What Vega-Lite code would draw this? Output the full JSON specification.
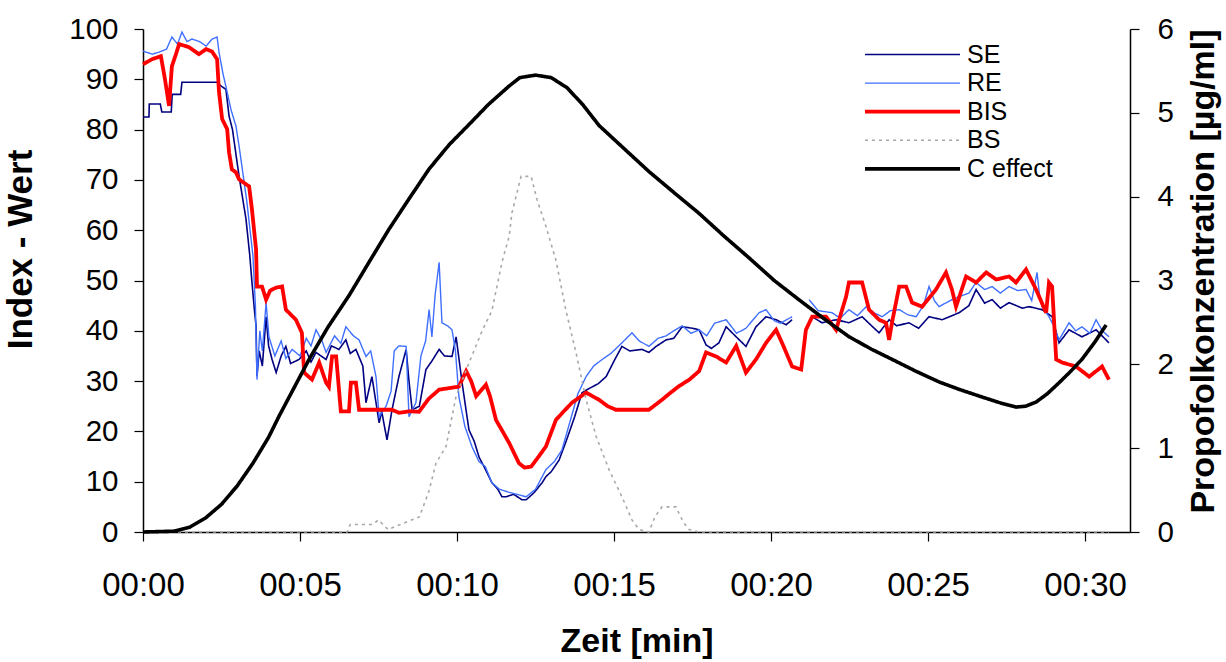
{
"$schema":"https://vega.github.io/schema/vega-lite/v6.json",
"width":987,"height":503,
"autosize":{"type":"none"},
"padding":{"left":143,"top":29,"right":96,"bottom":130},
"background":"white",
"config":{"view":{"stroke":null},"font":"Liberation Sans",
 "axis":{"grid":false,"labelFlush":false,"domainColor":"black","domainWidth":1.5,"tickColor":"black","tickWidth":1.2,"tickSize":9,"labelColor":"black","labelFont":"Liberation Sans","labelFontSize":29.5,"titleFont":"Liberation Sans","titleFontSize":35,"titleFontWeight":"bold","titleColor":"black"},
 "legend":{"labelFont":"Liberation Sans","labelFontSize":25,"labelColor":"black","symbolType":"M-4.75,0H4.75","symbolSize":400,"rowPadding":2.6,"labelOffset":42,"title":null,"orient":"none","legendX":757,"legendY":13,"padding":0}
},
"datasets":{"d":[
{"s":"SE","t":0,"v":82.5},{"s":"SE","t":0.19,"v":82.5},{"s":"SE","t":0.2,"v":85.1},{"s":"SE","t":0.55,"v":85.1},{"s":"SE","t":0.6,"v":83.5},{"s":"SE","t":0.9,"v":83.5},{"s":"SE","t":0.93,"v":87},{"s":"SE","t":1.2,"v":87},{"s":"SE","t":1.24,"v":89.4},{"s":"SE","t":2.36,"v":89.4},{"s":"SE","t":2.5,"v":88.6},{"s":"SE","t":2.64,"v":88},{"s":"SE","t":2.74,"v":82.7},{"s":"SE","t":2.85,"v":80},{"s":"SE","t":2.96,"v":75.1},{"s":"SE","t":3.06,"v":70.7},{"s":"SE","t":3.28,"v":62.2},{"s":"SE","t":3.4,"v":55},{"s":"SE","t":3.47,"v":49.6},{"s":"SE","t":3.55,"v":44},{"s":"SE","t":3.6,"v":41},{"s":"SE","t":3.63,"v":31},{"s":"SE","t":3.7,"v":36},{"s":"SE","t":3.8,"v":33},{"s":"SE","t":3.92,"v":42.8},{"s":"SE","t":4.0,"v":37},{"s":"SE","t":4.11,"v":34.3},{"s":"SE","t":4.24,"v":31.7},{"s":"SE","t":4.4,"v":35},{"s":"SE","t":4.55,"v":36.9},{"s":"SE","t":4.7,"v":33.5},{"s":"SE","t":4.97,"v":34.3},{"s":"SE","t":5.2,"v":36},{"s":"SE","t":5.35,"v":33.8},{"s":"SE","t":5.51,"v":35.7},{"s":"SE","t":5.83,"v":34.3},{"s":"SE","t":6.0,"v":37},{"s":"SE","t":6.24,"v":36.3},{"s":"SE","t":6.46,"v":38.2},{"s":"SE","t":6.6,"v":35.5},{"s":"SE","t":6.78,"v":36.3},{"s":"SE","t":7.0,"v":33},{"s":"SE","t":7.1,"v":25.7},{"s":"SE","t":7.29,"v":30.9},{"s":"SE","t":7.52,"v":21.7},{"s":"SE","t":7.6,"v":24},{"s":"SE","t":7.77,"v":18.3},{"s":"SE","t":7.93,"v":24.3},{"s":"SE","t":8.15,"v":30.9},{"s":"SE","t":8.38,"v":36.3},{"s":"SE","t":8.47,"v":30},{"s":"SE","t":8.57,"v":24.3},{"s":"SE","t":8.8,"v":25},{"s":"SE","t":9.01,"v":32.3},{"s":"SE","t":9.2,"v":34},{"s":"SE","t":9.43,"v":36.3},{"s":"SE","t":9.6,"v":35},{"s":"SE","t":9.84,"v":34.9},{"s":"SE","t":9.97,"v":38.8},{"s":"SE","t":10.05,"v":35},{"s":"SE","t":10.16,"v":29.7},{"s":"SE","t":10.38,"v":20.3},{"s":"SE","t":10.55,"v":18},{"s":"SE","t":10.7,"v":14.9},{"s":"SE","t":10.9,"v":12.5},{"s":"SE","t":11.11,"v":9.8},{"s":"SE","t":11.3,"v":8.5},{"s":"SE","t":11.43,"v":7},{"s":"SE","t":11.56,"v":7},{"s":"SE","t":11.8,"v":7.5},{"s":"SE","t":12.07,"v":6.4},{"s":"SE","t":12.2,"v":6.4},{"s":"SE","t":12.45,"v":7.8},{"s":"SE","t":12.71,"v":9.8},{"s":"SE","t":12.83,"v":11},{"s":"SE","t":13.0,"v":12},{"s":"SE","t":13.25,"v":14.3},{"s":"SE","t":13.5,"v":18.5},{"s":"SE","t":13.75,"v":23},{"s":"SE","t":13.98,"v":27.7},{"s":"SE","t":14.2,"v":28.5},{"s":"SE","t":14.5,"v":29.5},{"s":"SE","t":14.75,"v":30.9},{"s":"SE","t":15.0,"v":34},{"s":"SE","t":15.25,"v":36.9},{"s":"SE","t":15.5,"v":36},{"s":"SE","t":15.89,"v":36.3},{"s":"SE","t":16.11,"v":35.7},{"s":"SE","t":16.34,"v":36.9},{"s":"SE","t":16.66,"v":38.2},{"s":"SE","t":16.9,"v":38.5},{"s":"SE","t":17.17,"v":40.8},{"s":"SE","t":17.5,"v":40.5},{"s":"SE","t":17.71,"v":40.2},{"s":"SE","t":17.93,"v":37.2},{"s":"SE","t":18.1,"v":36.5},{"s":"SE","t":18.34,"v":37.6},{"s":"SE","t":18.57,"v":40.8},{"s":"SE","t":18.89,"v":38.8},{"s":"SE","t":19.2,"v":36.9},{"s":"SE","t":19.52,"v":40.8},{"s":"SE","t":19.84,"v":42.8},{"s":"SE","t":20.16,"v":42.2},{"s":"SE","t":20.48,"v":41.2},{"s":"SE","t":20.67,"v":42.2},{"s":"SE","t":20.8,"v":null},{"s":"SE","t":21.31,"v":42.8},{"s":"SE","t":21.62,"v":41.6},{"s":"SE","t":22.07,"v":42.2},{"s":"SE","t":22.48,"v":41.6},{"s":"SE","t":22.9,"v":42.8},{"s":"SE","t":23.2,"v":41},{"s":"SE","t":23.44,"v":39.6},{"s":"SE","t":23.76,"v":42.2},{"s":"SE","t":24.0,"v":41},{"s":"SE","t":24.39,"v":41.6},{"s":"SE","t":24.7,"v":40.5},{"s":"SE","t":25.03,"v":42.8},{"s":"SE","t":25.45,"v":42.2},{"s":"SE","t":25.99,"v":43.6},{"s":"SE","t":26.3,"v":45},{"s":"SE","t":26.53,"v":48.2},{"s":"SE","t":26.8,"v":45.5},{"s":"SE","t":27.04,"v":46.2},{"s":"SE","t":27.3,"v":44.5},{"s":"SE","t":27.58,"v":45.6},{"s":"SE","t":28.0,"v":44.5},{"s":"SE","t":28.22,"v":44.8},{"s":"SE","t":28.63,"v":44.2},{"s":"SE","t":28.95,"v":42.8},{"s":"SE","t":29.17,"v":37.6},{"s":"SE","t":29.49,"v":40.2},{"s":"SE","t":29.9,"v":38.8},{"s":"SE","t":30.35,"v":40.2},{"s":"SE","t":30.76,"v":37.6},
{"s":"RE","t":0,"v":95.6},{"s":"RE","t":0.3,"v":95},{"s":"RE","t":0.51,"v":95.4},{"s":"RE","t":0.75,"v":96},{"s":"RE","t":0.92,"v":98.4},{"s":"RE","t":1.1,"v":97},{"s":"RE","t":1.24,"v":99.4},{"s":"RE","t":1.4,"v":97.5},{"s":"RE","t":1.56,"v":98},{"s":"RE","t":1.8,"v":97.5},{"s":"RE","t":2.01,"v":96.6},{"s":"RE","t":2.2,"v":98},{"s":"RE","t":2.36,"v":98.4},{"s":"RE","t":2.42,"v":95.4},{"s":"RE","t":2.55,"v":91},{"s":"RE","t":2.64,"v":88.6},{"s":"RE","t":2.8,"v":84},{"s":"RE","t":2.96,"v":80.7},{"s":"RE","t":3.06,"v":76.7},{"s":"RE","t":3.3,"v":66},{"s":"RE","t":3.5,"v":55},{"s":"RE","t":3.58,"v":45},{"s":"RE","t":3.63,"v":30.3},{"s":"RE","t":3.72,"v":40},{"s":"RE","t":3.8,"v":36},{"s":"RE","t":3.92,"v":45.6},{"s":"RE","t":4.01,"v":38.8},{"s":"RE","t":4.2,"v":35},{"s":"RE","t":4.4,"v":38},{"s":"RE","t":4.55,"v":34.5},{"s":"RE","t":4.75,"v":36.3},{"s":"RE","t":5.0,"v":35},{"s":"RE","t":5.2,"v":38.5},{"s":"RE","t":5.35,"v":37},{"s":"RE","t":5.51,"v":40.2},{"s":"RE","t":5.7,"v":38},{"s":"RE","t":5.83,"v":35.7},{"s":"RE","t":6.1,"v":39},{"s":"RE","t":6.3,"v":37.5},{"s":"RE","t":6.46,"v":40.8},{"s":"RE","t":6.7,"v":39},{"s":"RE","t":6.88,"v":38.2},{"s":"RE","t":7.1,"v":34.9},{"s":"RE","t":7.25,"v":36},{"s":"RE","t":7.42,"v":30.9},{"s":"RE","t":7.52,"v":22.9},{"s":"RE","t":7.74,"v":25},{"s":"RE","t":7.9,"v":28},{"s":"RE","t":8.0,"v":36},{"s":"RE","t":8.15,"v":37},{"s":"RE","t":8.38,"v":36.9},{"s":"RE","t":8.47,"v":22.9},{"s":"RE","t":8.69,"v":25.7},{"s":"RE","t":8.85,"v":35},{"s":"RE","t":9.0,"v":38},{"s":"RE","t":9.11,"v":44.2},{"s":"RE","t":9.2,"v":38.8},{"s":"RE","t":9.3,"v":47},{"s":"RE","t":9.43,"v":53.6},{"s":"RE","t":9.52,"v":41.6},{"s":"RE","t":9.7,"v":41},{"s":"RE","t":9.84,"v":40.2},{"s":"RE","t":9.95,"v":36},{"s":"RE","t":10.06,"v":26.9},{"s":"RE","t":10.25,"v":21},{"s":"RE","t":10.48,"v":16.9},{"s":"RE","t":10.7,"v":14},{"s":"RE","t":10.9,"v":13},{"s":"RE","t":11.11,"v":9.8},{"s":"RE","t":11.35,"v":8.5},{"s":"RE","t":11.6,"v":8},{"s":"RE","t":11.9,"v":7.5},{"s":"RE","t":12.2,"v":7},{"s":"RE","t":12.5,"v":8.5},{"s":"RE","t":12.83,"v":12.4},{"s":"RE","t":13.1,"v":14},{"s":"RE","t":13.34,"v":16.3},{"s":"RE","t":13.6,"v":22},{"s":"RE","t":13.85,"v":27.5},{"s":"RE","t":14.11,"v":30.9},{"s":"RE","t":14.35,"v":33},{"s":"RE","t":14.62,"v":34.3},{"s":"RE","t":14.9,"v":35.5},{"s":"RE","t":15.25,"v":37.6},{"s":"RE","t":15.57,"v":39.6},{"s":"RE","t":15.8,"v":38},{"s":"RE","t":16.11,"v":36.9},{"s":"RE","t":16.4,"v":38.5},{"s":"RE","t":16.66,"v":39},{"s":"RE","t":16.9,"v":40},{"s":"RE","t":17.17,"v":41},{"s":"RE","t":17.45,"v":39.5},{"s":"RE","t":17.71,"v":40.2},{"s":"RE","t":17.95,"v":39},{"s":"RE","t":18.2,"v":41.5},{"s":"RE","t":18.57,"v":42.2},{"s":"RE","t":18.9,"v":39.5},{"s":"RE","t":19.2,"v":40.5},{"s":"RE","t":19.4,"v":42},{"s":"RE","t":19.62,"v":43.6},{"s":"RE","t":19.84,"v":44.2},{"s":"RE","t":20.1,"v":42},{"s":"RE","t":20.3,"v":41.5},{"s":"RE","t":20.67,"v":42.8},{"s":"RE","t":20.8,"v":null},{"s":"RE","t":21.21,"v":46.2},{"s":"RE","t":21.5,"v":44},{"s":"RE","t":21.94,"v":43.6},{"s":"RE","t":22.2,"v":42.5},{"s":"RE","t":22.48,"v":44.2},{"s":"RE","t":22.75,"v":43},{"s":"RE","t":23.03,"v":44.8},{"s":"RE","t":23.3,"v":43.5},{"s":"RE","t":23.54,"v":42.8},{"s":"RE","t":23.8,"v":44},{"s":"RE","t":24.08,"v":44.2},{"s":"RE","t":24.35,"v":43.2},{"s":"RE","t":24.62,"v":42.8},{"s":"RE","t":24.85,"v":45},{"s":"RE","t":25.03,"v":48.8},{"s":"RE","t":25.2,"v":46},{"s":"RE","t":25.35,"v":44.8},{"s":"RE","t":25.7,"v":46},{"s":"RE","t":25.99,"v":46.8},{"s":"RE","t":26.3,"v":47.5},{"s":"RE","t":26.53,"v":49.6},{"s":"RE","t":26.8,"v":48.2},{"s":"RE","t":27.04,"v":48.8},{"s":"RE","t":27.3,"v":47.5},{"s":"RE","t":27.58,"v":48.8},{"s":"RE","t":27.85,"v":48},{"s":"RE","t":28.12,"v":48.2},{"s":"RE","t":28.3,"v":46},{"s":"RE","t":28.47,"v":51.6},{"s":"RE","t":28.55,"v":47},{"s":"RE","t":28.63,"v":44.8},{"s":"RE","t":28.85,"v":42.8},{"s":"RE","t":29.0,"v":41},{"s":"RE","t":29.17,"v":38.2},{"s":"RE","t":29.49,"v":41.6},{"s":"RE","t":29.7,"v":40},{"s":"RE","t":29.9,"v":40.8},{"s":"RE","t":30.15,"v":39.5},{"s":"RE","t":30.35,"v":42.2},{"s":"RE","t":30.55,"v":40},{"s":"RE","t":30.76,"v":38.8},
{"s":"BIS","t":0,"v":93},{"s":"BIS","t":0.29,"v":94},{"s":"BIS","t":0.57,"v":94.6},{"s":"BIS","t":0.7,"v":90},{"s":"BIS","t":0.83,"v":84.7},{"s":"BIS","t":0.92,"v":92.6},{"s":"BIS","t":1.05,"v":95},{"s":"BIS","t":1.15,"v":97},{"s":"BIS","t":1.46,"v":96.4},{"s":"BIS","t":1.78,"v":95},{"s":"BIS","t":2.01,"v":96},{"s":"BIS","t":2.2,"v":95.5},{"s":"BIS","t":2.36,"v":94},{"s":"BIS","t":2.42,"v":87.5},{"s":"BIS","t":2.52,"v":82.1},{"s":"BIS","t":2.68,"v":80.1},{"s":"BIS","t":2.74,"v":75.5},{"s":"BIS","t":2.83,"v":72.1},{"s":"BIS","t":2.96,"v":71.5},{"s":"BIS","t":3.06,"v":70.1},{"s":"BIS","t":3.38,"v":68.7},{"s":"BIS","t":3.47,"v":64.1},{"s":"BIS","t":3.6,"v":56.2},{"s":"BIS","t":3.63,"v":48.8},{"s":"BIS","t":3.79,"v":48.8},{"s":"BIS","t":3.92,"v":46.2},{"s":"BIS","t":4.05,"v":48},{"s":"BIS","t":4.24,"v":48.6},{"s":"BIS","t":4.43,"v":48.8},{"s":"BIS","t":4.55,"v":44.2},{"s":"BIS","t":4.87,"v":42.2},{"s":"BIS","t":5.06,"v":39.6},{"s":"BIS","t":5.13,"v":31.7},{"s":"BIS","t":5.38,"v":30.3},{"s":"BIS","t":5.61,"v":33.7},{"s":"BIS","t":5.83,"v":29.7},{"s":"BIS","t":5.92,"v":28.9},{"s":"BIS","t":6.02,"v":34.9},{"s":"BIS","t":6.15,"v":34.9},{"s":"BIS","t":6.3,"v":24},{"s":"BIS","t":6.56,"v":24},{"s":"BIS","t":6.62,"v":29.7},{"s":"BIS","t":6.78,"v":29.7},{"s":"BIS","t":6.88,"v":24.3},{"s":"BIS","t":7.2,"v":24.3},{"s":"BIS","t":7.93,"v":24.3},{"s":"BIS","t":8.15,"v":23.7},{"s":"BIS","t":8.5,"v":24},{"s":"BIS","t":8.79,"v":23.9},{"s":"BIS","t":9.1,"v":26.5},{"s":"BIS","t":9.43,"v":28.3},{"s":"BIS","t":10.06,"v":28.9},{"s":"BIS","t":10.29,"v":32},{"s":"BIS","t":10.45,"v":30},{"s":"BIS","t":10.61,"v":27},{"s":"BIS","t":10.92,"v":29.3},{"s":"BIS","t":11.05,"v":27},{"s":"BIS","t":11.24,"v":22.3},{"s":"BIS","t":11.45,"v":20},{"s":"BIS","t":11.66,"v":17.7},{"s":"BIS","t":11.97,"v":13.7},{"s":"BIS","t":12.15,"v":12.8},{"s":"BIS","t":12.36,"v":13},{"s":"BIS","t":12.6,"v":15},{"s":"BIS","t":12.83,"v":17},{"s":"BIS","t":13.15,"v":22.3},{"s":"BIS","t":13.4,"v":24},{"s":"BIS","t":13.66,"v":25.7},{"s":"BIS","t":14.11,"v":27.7},{"s":"BIS","t":14.52,"v":26.3},{"s":"BIS","t":14.8,"v":25},{"s":"BIS","t":15.06,"v":24.3},{"s":"BIS","t":16.11,"v":24.3},{"s":"BIS","t":16.53,"v":26.3},{"s":"BIS","t":16.8,"v":27.7},{"s":"BIS","t":17.07,"v":29},{"s":"BIS","t":17.4,"v":30.3},{"s":"BIS","t":17.71,"v":32},{"s":"BIS","t":17.93,"v":35.7},{"s":"BIS","t":18.25,"v":34.9},{"s":"BIS","t":18.57,"v":33.7},{"s":"BIS","t":18.89,"v":37},{"s":"BIS","t":19.2,"v":31.7},{"s":"BIS","t":19.52,"v":34.3},{"s":"BIS","t":19.84,"v":37.6},{"s":"BIS","t":20.16,"v":40.2},{"s":"BIS","t":20.35,"v":37.6},{"s":"BIS","t":20.67,"v":32.9},{"s":"BIS","t":20.96,"v":32.3},{"s":"BIS","t":21.11,"v":40.2},{"s":"BIS","t":21.31,"v":42.8},{"s":"BIS","t":21.75,"v":42.8},{"s":"BIS","t":22.07,"v":40.2},{"s":"BIS","t":22.39,"v":46.8},{"s":"BIS","t":22.48,"v":49.6},{"s":"BIS","t":22.9,"v":49.6},{"s":"BIS","t":23.12,"v":44.2},{"s":"BIS","t":23.44,"v":42.2},{"s":"BIS","t":23.66,"v":41.6},{"s":"BIS","t":23.76,"v":38.2},{"s":"BIS","t":23.85,"v":41.6},{"s":"BIS","t":24.08,"v":48.8},{"s":"BIS","t":24.3,"v":48.8},{"s":"BIS","t":24.49,"v":45.6},{"s":"BIS","t":24.81,"v":44.8},{"s":"BIS","t":25.25,"v":48.2},{"s":"BIS","t":25.57,"v":51.6},{"s":"BIS","t":25.76,"v":48.2},{"s":"BIS","t":25.89,"v":44.8},{"s":"BIS","t":26.21,"v":50.8},{"s":"BIS","t":26.53,"v":49.6},{"s":"BIS","t":26.85,"v":51.6},{"s":"BIS","t":27.17,"v":50.2},{"s":"BIS","t":27.58,"v":50.8},{"s":"BIS","t":27.8,"v":49.6},{"s":"BIS","t":28.12,"v":52.2},{"s":"BIS","t":28.44,"v":48.2},{"s":"BIS","t":28.76,"v":43.6},{"s":"BIS","t":28.85,"v":49.6},{"s":"BIS","t":28.95,"v":48.8},{"s":"BIS","t":29.08,"v":34.3},{"s":"BIS","t":29.27,"v":33.7},{"s":"BIS","t":29.71,"v":32.9},{"s":"BIS","t":30.13,"v":30.9},{"s":"BIS","t":30.54,"v":32.9},{"s":"BIS","t":30.76,"v":30.3},
{"s":"BS","t":0,"v":0},{"s":"BS","t":6.5,"v":0},{"s":"BS","t":6.6,"v":1.5},{"s":"BS","t":7.3,"v":1.5},{"s":"BS","t":7.5,"v":2.4},{"s":"BS","t":7.8,"v":0.5},{"s":"BS","t":8.2,"v":1.5},{"s":"BS","t":8.8,"v":3},{"s":"BS","t":9.1,"v":8},{"s":"BS","t":9.33,"v":13.7},{"s":"BS","t":9.65,"v":17},{"s":"BS","t":9.97,"v":27},{"s":"BS","t":10.38,"v":33.6},{"s":"BS","t":10.8,"v":40},{"s":"BS","t":11.11,"v":44},{"s":"BS","t":11.43,"v":53.6},{"s":"BS","t":11.66,"v":58.8},{"s":"BS","t":11.75,"v":63.5},{"s":"BS","t":12.04,"v":70.7},{"s":"BS","t":12.36,"v":70.7},{"s":"BS","t":12.55,"v":66},{"s":"BS","t":12.83,"v":60.8},{"s":"BS","t":13.15,"v":54},{"s":"BS","t":13.47,"v":44},{"s":"BS","t":13.79,"v":35.6},{"s":"BS","t":14.11,"v":26.3},{"s":"BS","t":14.43,"v":19},{"s":"BS","t":14.84,"v":12.4},{"s":"BS","t":15.25,"v":7},{"s":"BS","t":15.57,"v":2.4},{"s":"BS","t":15.8,"v":0.5},{"s":"BS","t":16.11,"v":0},{"s":"BS","t":16.3,"v":3},{"s":"BS","t":16.53,"v":5},{"s":"BS","t":16.97,"v":5},{"s":"BS","t":17.2,"v":2},{"s":"BS","t":17.39,"v":0.5},{"s":"BS","t":17.7,"v":0},{"s":"BS","t":30.76,"v":0},
{"s":"C effect","t":0,"v":0},{"s":"C effect","t":1.0,"v":0.01},{"s":"C effect","t":1.5,"v":0.06},{"s":"C effect","t":2.0,"v":0.17},{"s":"C effect","t":2.5,"v":0.33},{"s":"C effect","t":3.0,"v":0.55},{"s":"C effect","t":3.5,"v":0.82},{"s":"C effect","t":4.0,"v":1.13},{"s":"C effect","t":4.33,"v":1.38},{"s":"C effect","t":5.29,"v":2.06},{"s":"C effect","t":5.9,"v":2.45},{"s":"C effect","t":6.56,"v":2.82},{"s":"C effect","t":7.2,"v":3.22},{"s":"C effect","t":7.83,"v":3.61},{"s":"C effect","t":8.5,"v":3.99},{"s":"C effect","t":9.11,"v":4.33},{"s":"C effect","t":9.75,"v":4.62},{"s":"C effect","t":10.38,"v":4.86},{"s":"C effect","t":11.0,"v":5.1},{"s":"C effect","t":11.66,"v":5.32},{"s":"C effect","t":12.0,"v":5.42},{"s":"C effect","t":12.5,"v":5.45},{"s":"C effect","t":13.0,"v":5.42},{"s":"C effect","t":13.5,"v":5.3},{"s":"C effect","t":14.0,"v":5.1},{"s":"C effect","t":14.52,"v":4.85},{"s":"C effect","t":15.3,"v":4.58},{"s":"C effect","t":16.11,"v":4.3},{"s":"C effect","t":17.0,"v":4.02},{"s":"C effect","t":17.71,"v":3.8},{"s":"C effect","t":18.5,"v":3.53},{"s":"C effect","t":19.3,"v":3.27},{"s":"C effect","t":20.1,"v":3.0},{"s":"C effect","t":20.89,"v":2.77},{"s":"C effect","t":21.7,"v":2.54},{"s":"C effect","t":22.48,"v":2.33},{"s":"C effect","t":23.2,"v":2.18},{"s":"C effect","t":23.85,"v":2.06},{"s":"C effect","t":24.6,"v":1.92},{"s":"C effect","t":25.35,"v":1.79},{"s":"C effect","t":26.0,"v":1.7},{"s":"C effect","t":26.72,"v":1.61},{"s":"C effect","t":27.3,"v":1.54},{"s":"C effect","t":27.8,"v":1.49},{"s":"C effect","t":28.1,"v":1.5},{"s":"C effect","t":28.44,"v":1.55},{"s":"C effect","t":28.8,"v":1.65},{"s":"C effect","t":29.17,"v":1.78},{"s":"C effect","t":29.55,"v":1.92},{"s":"C effect","t":29.9,"v":2.06},{"s":"C effect","t":30.3,"v":2.26},{"s":"C effect","t":30.67,"v":2.47}
]},
"data":{"name":"d"},
"encoding":{
 "x":{"field":"t","type":"quantitative","scale":{"domain":[0,31.43],"nice":false,"zero":false},
  "axis":{"values":[0,5,10,15,20,25,30],"labelExpr":"'00:' + (datum.value < 10 ? '0' : '') + datum.value","labelFontSize":33,"labelPadding":28,"title":"Zeit [min]","titleFontSize":34,"titlePadding":22}},
 "color":{"field":"s","type":"nominal","scale":{"domain":["SE","RE","BIS","BS","C effect"],"range":["#000080","#3f6fff","#ff0000","#a8a8a8","#000000"]}},
 "strokeWidth":{"field":"s","type":"nominal","scale":{"type":"ordinal","domain":["SE","RE","BIS","BS","C effect"],"range":[1.6,1.4,3.8,1.6,3.6]}},
 "strokeDash":{"field":"s","type":"nominal","scale":{"domain":["SE","RE","BIS","BS","C effect"],"range":[[1,0],[1,0],[1,0],[3,4],[1,0]]}}
},
"layer":[
 {"encoding":{"y":{"field":"v","type":"quantitative","scale":{"domain":[0,100],"nice":false},
   "axis":{"orient":"left","values":[0,10,20,30,40,50,60,70,80,90,100],"labelPadding":16,"title":"Index - Wert","titlePadding":30,"titleY":220}}},
  "layer":[
   {"transform":[{"filter":"datum.s === 'SE'"}],"mark":{"type":"line","interpolate":"linear"}},
   {"transform":[{"filter":"datum.s === 'RE'"}],"mark":{"type":"line","interpolate":"linear"}},
   {"transform":[{"filter":"datum.s === 'BIS'"}],"mark":{"type":"line","interpolate":"linear"}},
   {"transform":[{"filter":"datum.s === 'BS'"}],"mark":{"type":"line","interpolate":"linear"}}
  ]},
 {"transform":[{"filter":"datum.s === 'C effect'"}],"mark":{"type":"line","interpolate":"linear"},
  "encoding":{"y":{"field":"v","type":"quantitative","scale":{"domain":[0,6],"nice":false},
   "axis":{"orient":"right","values":[0,1,2,3,4,5,6],"labelPadding":18,"title":"Propofolkonzentration [µg/ml]","titleFontSize":34,"titleAngle":270,"titleBaseline":"top","titleX":56,"titleY":242}}}}
],
"resolve":{"scale":{"y":"independent"}}
}
